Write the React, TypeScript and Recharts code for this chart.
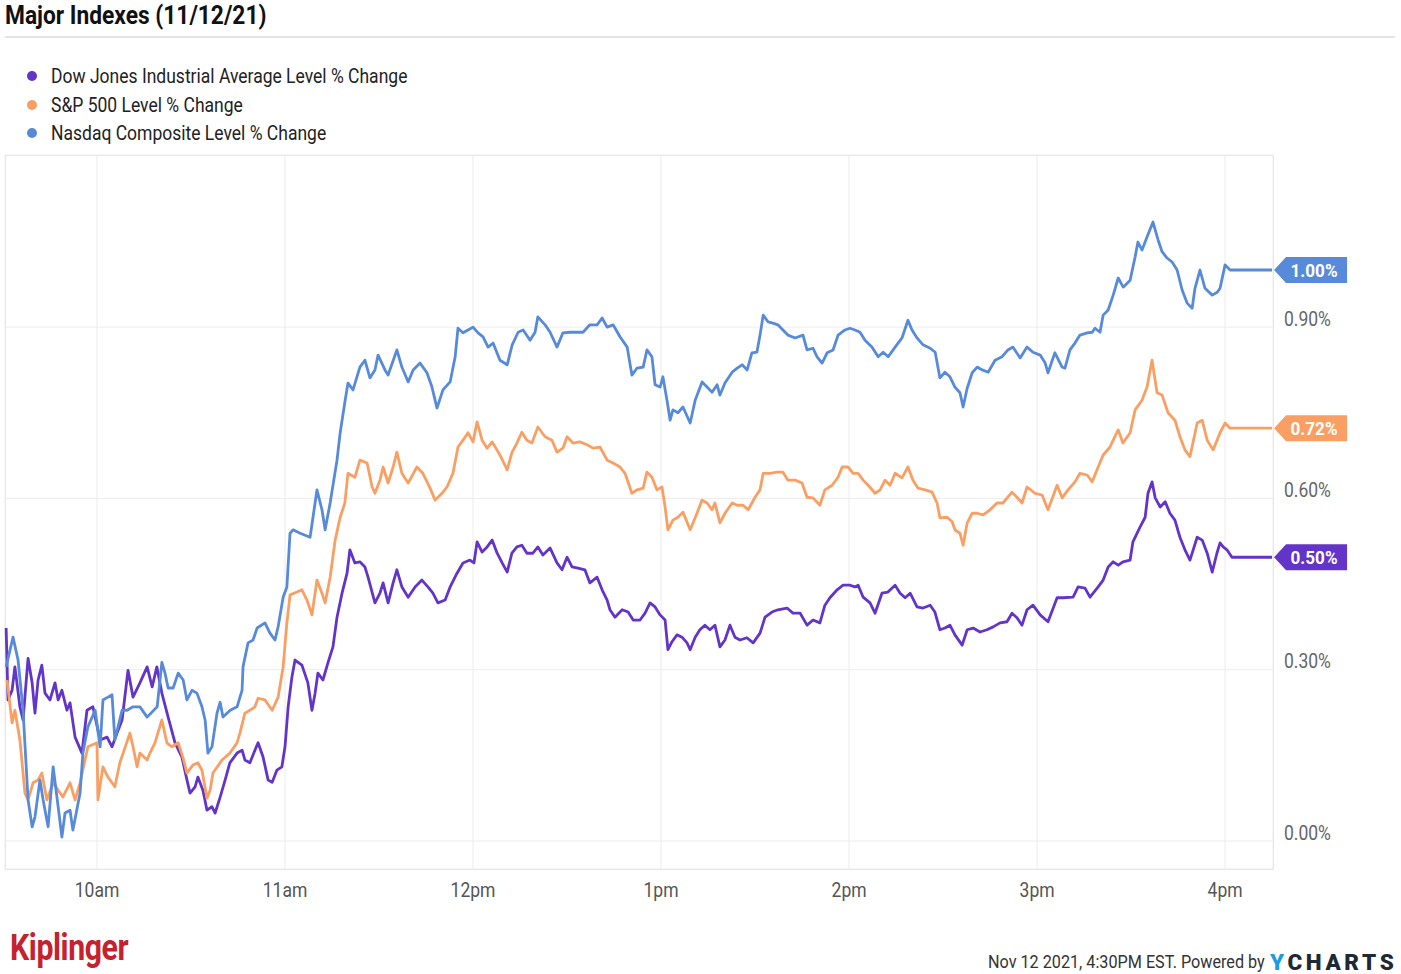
import React from 'react';
import { LineChart, Line, XAxis, YAxis, CartesianGrid } from 'recharts';

// minutes after the 9:30 open -> % change
const hourTicks = [30, 90, 150, 210, 270, 330, 390];
const hourLabels = ['10am', '11am', '12pm', '1pm', '2pm', '3pm', '4pm'];
const pctTicks = [0, 0.3, 0.6, 0.9];

const seriesNames = [
  'Dow Jones Industrial Average Level % Change',
  'S&P 500 Level % Change',
  'Nasdaq Composite Level % Change',
];
const seriesColors = ['#6334c8', '#fa9f63', '#578ad9'];

const dowSeries: [number, number][] = [
  [1.0, 0.373], [1.6, 0.247], [2.9, 0.264], [3.8, 0.305], [5.4, 0.235], [6.4, 0.212], [8.0, 0.32], [9.3, 0.277],
  [10.2, 0.224], [11.2, 0.282], [12.4, 0.308], [13.4, 0.259], [15.0, 0.247], [16.6, 0.277], [17.6, 0.247], [18.8, 0.264],
  [20.4, 0.229], [21.4, 0.242], [23.0, 0.182], [25.2, 0.154], [26.8, 0.229], [28.7, 0.235], [31.0, 0.177], [33.2, 0.182],
  [34.8, 0.165], [36.4, 0.189], [38.0, 0.212], [39.9, 0.299], [41.5, 0.252], [43.7, 0.277], [46.0, 0.305], [47.6, 0.27],
  [49.1, 0.305], [50.7, 0.259], [52.7, 0.217], [54.9, 0.172], [57.1, 0.147], [58.7, 0.107], [59.7, 0.084], [61.3, 0.095],
  [62.2, 0.112], [63.8, 0.089], [65.1, 0.054], [66.7, 0.06], [67.7, 0.049], [69.3, 0.077], [70.9, 0.107], [72.4, 0.137],
  [74.7, 0.154], [76.3, 0.159], [77.2, 0.142], [78.8, 0.137], [80.4, 0.159], [81.4, 0.172], [83.0, 0.147], [84.6, 0.107],
  [85.9, 0.103], [87.4, 0.124], [89.0, 0.13], [90.0, 0.165], [91.0, 0.235], [92.2, 0.287], [93.2, 0.317], [95.4, 0.308],
  [97.3, 0.277], [98.6, 0.229], [99.6, 0.259], [100.5, 0.294], [102.1, 0.282], [103.7, 0.312], [105.3, 0.34], [106.6, 0.392],
  [108.2, 0.434], [109.8, 0.469], [110.7, 0.51], [112.3, 0.487], [113.9, 0.489], [115.5, 0.48], [116.5, 0.462], [118.7, 0.417],
  [120.3, 0.434], [121.3, 0.452], [122.9, 0.417], [124.5, 0.452], [125.7, 0.475], [127.3, 0.445], [129.3, 0.427], [131.5, 0.445],
  [133.7, 0.457], [135.6, 0.445], [137.2, 0.434], [138.8, 0.417], [141.1, 0.422], [142.7, 0.445], [144.9, 0.469], [146.8, 0.487],
  [149.0, 0.492], [150.3, 0.487], [151.3, 0.524], [152.9, 0.506], [154.5, 0.515], [156.1, 0.527], [157.7, 0.504], [159.3, 0.487],
  [160.9, 0.471], [162.4, 0.504], [164.0, 0.515], [165.6, 0.518], [167.2, 0.504], [169.1, 0.504], [170.7, 0.515], [172.3, 0.501],
  [174.6, 0.513], [176.8, 0.487], [178.4, 0.475], [180.0, 0.497], [181.6, 0.48], [183.5, 0.478], [185.7, 0.475], [187.3, 0.452],
  [189.6, 0.462], [191.2, 0.44], [192.8, 0.422], [193.7, 0.405], [195.3, 0.392], [197.6, 0.405], [199.5, 0.401], [201.1, 0.387],
  [203.3, 0.387], [204.9, 0.399], [206.5, 0.417], [208.1, 0.41], [209.7, 0.396], [211.3, 0.387], [212.2, 0.335], [213.5, 0.349],
  [215.1, 0.361], [216.7, 0.357], [218.3, 0.347], [219.3, 0.335], [220.9, 0.357], [222.4, 0.37], [224.0, 0.378], [225.6, 0.37],
  [227.2, 0.378], [228.8, 0.34], [230.4, 0.352], [232.0, 0.378], [233.6, 0.357], [235.2, 0.352], [237.4, 0.356], [239.4, 0.347],
  [241.6, 0.364], [243.2, 0.392], [245.4, 0.401], [247.3, 0.405], [250.2, 0.408], [252.1, 0.399], [254.4, 0.399], [256.6, 0.378],
  [258.5, 0.387], [260.7, 0.382], [262.3, 0.413], [263.9, 0.426], [266.2, 0.44], [268.1, 0.448], [270.3, 0.448], [271.9, 0.445],
  [272.9, 0.448], [274.5, 0.427], [276.7, 0.417], [278.3, 0.399], [280.5, 0.434], [282.4, 0.436], [284.7, 0.448], [286.3, 0.434],
  [287.9, 0.426], [289.5, 0.434], [291.7, 0.41], [293.6, 0.408], [295.9, 0.413], [297.4, 0.401], [299.0, 0.37], [300.6, 0.373],
  [302.2, 0.378], [303.8, 0.361], [306.1, 0.343], [307.7, 0.37], [309.6, 0.373], [311.8, 0.366], [314.0, 0.37], [316.0, 0.375],
  [318.2, 0.382], [320.4, 0.384], [322.0, 0.399], [323.6, 0.391], [325.2, 0.378], [326.8, 0.405], [328.7, 0.413], [331.0, 0.396],
  [333.5, 0.384], [336.4, 0.426], [338.3, 0.426], [341.5, 0.427], [343.1, 0.445], [345.3, 0.443], [346.9, 0.427], [349.5, 0.445],
  [351.1, 0.457], [352.7, 0.48], [354.3, 0.489], [355.9, 0.483], [357.4, 0.489], [359.7, 0.492], [360.6, 0.524], [362.9, 0.55],
  [364.5, 0.567], [365.4, 0.609], [366.7, 0.629], [367.7, 0.601], [369.3, 0.585], [370.9, 0.594], [372.4, 0.574], [374.0, 0.562],
  [375.6, 0.532], [377.2, 0.51], [378.8, 0.492], [381.1, 0.532], [382.7, 0.527], [384.3, 0.504], [385.9, 0.471], [387.4, 0.504],
  [388.4, 0.522], [389.4, 0.515], [390.6, 0.51], [392.2, 0.497], [405.0, 0.497],
];

const spSeries: [number, number][] = [
  [1.3, 0.282], [2.9, 0.207], [3.8, 0.229], [5.4, 0.177], [7.0, 0.084], [8.0, 0.072], [9.6, 0.102], [11.2, 0.107],
  [12.4, 0.119], [14.0, 0.072], [16.0, 0.102], [19.1, 0.077], [21.4, 0.102], [23.0, 0.072], [24.6, 0.102], [27.1, 0.165],
  [30.0, 0.172], [30.3, 0.072], [31.9, 0.13], [33.5, 0.112], [35.7, 0.095], [37.3, 0.137], [40.5, 0.189], [41.5, 0.165],
  [42.8, 0.13], [43.7, 0.154], [46.0, 0.142], [46.9, 0.154], [48.5, 0.172], [50.7, 0.212], [52.3, 0.172], [53.9, 0.165],
  [55.9, 0.172], [57.4, 0.147], [58.7, 0.119], [60.6, 0.133], [62.2, 0.137], [63.5, 0.124], [65.1, 0.075], [66.1, 0.089],
  [67.0, 0.119], [69.9, 0.142], [72.4, 0.154], [74.7, 0.172], [75.6, 0.189], [77.2, 0.224], [78.8, 0.229], [80.4, 0.235],
  [81.4, 0.25], [83.6, 0.247], [85.9, 0.229], [87.8, 0.252], [89.4, 0.305], [90.6, 0.382], [91.6, 0.431], [93.8, 0.436],
  [95.4, 0.44], [97.0, 0.422], [98.6, 0.396], [100.2, 0.457], [101.8, 0.434], [102.8, 0.417], [104.4, 0.462], [106.0, 0.527],
  [107.6, 0.567], [109.1, 0.592], [110.1, 0.644], [112.3, 0.637], [113.9, 0.667], [116.2, 0.662], [117.8, 0.62], [118.7, 0.609],
  [120.3, 0.632], [121.3, 0.655], [122.9, 0.627], [124.5, 0.655], [125.7, 0.681], [127.3, 0.644], [129.3, 0.627], [132.1, 0.655],
  [134.0, 0.644], [136.3, 0.618], [137.9, 0.597], [140.1, 0.609], [141.7, 0.62], [143.6, 0.644], [145.2, 0.69], [146.8, 0.702],
  [148.4, 0.715], [150.0, 0.699], [151.3, 0.734], [152.9, 0.702], [154.5, 0.688], [156.1, 0.699], [158.6, 0.676], [160.9, 0.65],
  [162.4, 0.68], [164.0, 0.697], [165.6, 0.716], [167.2, 0.702], [168.8, 0.697], [170.7, 0.725], [173.0, 0.708], [175.2, 0.702],
  [176.8, 0.681], [178.7, 0.688], [180.0, 0.708], [181.9, 0.697], [184.1, 0.699], [186.4, 0.694], [188.3, 0.688], [190.5, 0.69],
  [192.8, 0.667], [194.7, 0.662], [196.9, 0.655], [198.5, 0.644], [200.7, 0.609], [202.3, 0.615], [204.3, 0.618], [205.5, 0.646],
  [207.1, 0.637], [208.7, 0.615], [210.3, 0.62], [211.3, 0.585], [212.2, 0.545], [213.8, 0.562], [215.4, 0.567], [217.0, 0.576],
  [219.3, 0.545], [220.9, 0.566], [223.1, 0.597], [224.7, 0.592], [226.3, 0.58], [227.2, 0.592], [228.8, 0.557], [230.4, 0.574],
  [232.7, 0.592], [234.3, 0.588], [236.2, 0.588], [237.8, 0.58], [240.0, 0.602], [241.6, 0.615], [242.6, 0.644], [244.8, 0.644],
  [247.0, 0.646], [248.9, 0.646], [250.5, 0.632], [252.8, 0.632], [255.0, 0.627], [256.6, 0.602], [258.5, 0.601], [260.7, 0.588],
  [262.3, 0.615], [264.6, 0.623], [266.5, 0.637], [267.8, 0.655], [269.7, 0.655], [271.3, 0.644], [272.9, 0.644], [274.5, 0.632],
  [276.1, 0.623], [278.3, 0.609], [279.9, 0.615], [281.5, 0.632], [283.1, 0.623], [284.7, 0.644], [286.9, 0.636], [288.8, 0.655],
  [290.4, 0.632], [292.0, 0.618], [294.3, 0.615], [296.5, 0.611], [298.1, 0.592], [299.0, 0.566], [301.3, 0.567], [302.9, 0.559],
  [303.8, 0.545], [305.4, 0.539], [306.4, 0.518], [307.7, 0.557], [309.3, 0.574], [310.9, 0.574], [312.8, 0.571], [315.0, 0.58],
  [317.2, 0.592], [319.1, 0.592], [322.0, 0.611], [323.6, 0.602], [325.2, 0.592], [326.8, 0.62], [329.4, 0.609], [331.6, 0.606],
  [333.5, 0.58], [336.4, 0.623], [338.0, 0.601], [339.9, 0.615], [342.1, 0.629], [343.7, 0.644], [346.0, 0.641], [347.6, 0.629],
  [349.5, 0.655], [351.1, 0.676], [353.3, 0.69], [354.3, 0.702], [355.9, 0.72], [357.4, 0.697], [359.7, 0.715], [361.3, 0.755],
  [363.5, 0.772], [365.1, 0.795], [366.7, 0.842], [368.3, 0.785], [369.9, 0.781], [371.8, 0.75], [374.0, 0.737], [375.6, 0.708],
  [377.2, 0.685], [378.8, 0.673], [381.1, 0.732], [382.7, 0.737], [384.3, 0.702], [386.2, 0.685], [388.4, 0.715], [390.0, 0.732],
  [391.6, 0.723], [405.0, 0.723],
];

const nasdaqSeries: [number, number][] = [
  [1.0, 0.305], [3.2, 0.357], [4.8, 0.317], [6.4, 0.229], [8.0, 0.072], [9.3, 0.025], [10.2, 0.042], [11.8, 0.107],
  [12.8, 0.072], [14.4, 0.025], [16.0, 0.13], [17.6, 0.06], [18.8, 0.007], [19.8, 0.049], [21.4, 0.054], [22.3, 0.019],
  [24.6, 0.084], [25.5, 0.154], [27.1, 0.2], [29.4, 0.229], [31.0, 0.165], [31.9, 0.247], [33.5, 0.252], [34.8, 0.256],
  [35.7, 0.177], [38.0, 0.229], [39.6, 0.229], [41.5, 0.235], [43.7, 0.235], [46.0, 0.217], [49.2, 0.235], [50.7, 0.313],
  [51.7, 0.294], [52.7, 0.268], [54.3, 0.268], [55.9, 0.294], [57.5, 0.282], [58.7, 0.247], [60.3, 0.264], [61.9, 0.259],
  [63.5, 0.235], [64.5, 0.212], [65.4, 0.154], [66.7, 0.165], [68.3, 0.224], [69.3, 0.243], [70.2, 0.217], [72.5, 0.229],
  [74.7, 0.235], [76.3, 0.264], [76.6, 0.305], [78.2, 0.347], [79.8, 0.352], [81.1, 0.373], [83.6, 0.382], [85.2, 0.364],
  [86.8, 0.352], [87.8, 0.375], [89.4, 0.427], [90.6, 0.445], [91.6, 0.539], [92.6, 0.545], [94.8, 0.539], [98.0, 0.532],
  [99.6, 0.592], [100.2, 0.615], [101.8, 0.58], [102.8, 0.545], [104.4, 0.592], [106.6, 0.667], [107.6, 0.715], [109.2, 0.772],
  [110.1, 0.802], [111.7, 0.79], [113.9, 0.83], [115.5, 0.842], [117.1, 0.811], [118.7, 0.825], [119.7, 0.851], [121.9, 0.825],
  [122.9, 0.816], [125.7, 0.86], [127.3, 0.83], [129.3, 0.804], [130.9, 0.825], [133.1, 0.837], [135.3, 0.82], [136.9, 0.795],
  [138.5, 0.758], [140.4, 0.79], [142.7, 0.804], [144.3, 0.848], [145.2, 0.898], [146.8, 0.89], [148.4, 0.895], [150.0, 0.9],
  [151.6, 0.89], [153.2, 0.883], [154.8, 0.865], [156.4, 0.872], [158.6, 0.842], [160.9, 0.834], [162.5, 0.869], [164.4, 0.891],
  [166.0, 0.895], [168.2, 0.877], [169.8, 0.891], [170.7, 0.918], [173.0, 0.904], [174.6, 0.891], [176.8, 0.865], [178.7, 0.89],
  [181.0, 0.891], [183.2, 0.891], [185.1, 0.891], [187.3, 0.904], [189.6, 0.904], [191.2, 0.916], [192.8, 0.9], [194.7, 0.904],
  [196.9, 0.883], [199.2, 0.865], [200.7, 0.816], [202.3, 0.828], [204.3, 0.83], [205.5, 0.86], [207.1, 0.848], [208.1, 0.799],
  [209.7, 0.795], [210.6, 0.813], [211.9, 0.772], [212.9, 0.737], [213.8, 0.755], [215.4, 0.75], [217.0, 0.76], [219.3, 0.732],
  [220.9, 0.772], [223.1, 0.804], [224.7, 0.795], [226.3, 0.786], [227.9, 0.799], [228.8, 0.781], [230.4, 0.802], [232.7, 0.821],
  [234.3, 0.828], [235.9, 0.834], [237.5, 0.825], [239.0, 0.855], [240.6, 0.856], [241.6, 0.886], [242.6, 0.921], [244.2, 0.909],
  [245.7, 0.907], [247.3, 0.904], [248.9, 0.895], [250.5, 0.886], [252.8, 0.881], [255.3, 0.886], [256.6, 0.86], [258.5, 0.863],
  [259.8, 0.848], [261.4, 0.837], [263.0, 0.855], [264.9, 0.86], [266.5, 0.886], [268.7, 0.895], [270.3, 0.898], [271.9, 0.895],
  [273.5, 0.891], [275.1, 0.877], [277.3, 0.865], [279.3, 0.848], [280.9, 0.856], [282.5, 0.848], [284.7, 0.865], [286.9, 0.881],
  [288.8, 0.912], [290.1, 0.895], [291.7, 0.881], [293.6, 0.869], [295.9, 0.863], [297.5, 0.856], [299.0, 0.811], [300.6, 0.821],
  [302.2, 0.813], [303.8, 0.795], [305.4, 0.785], [306.4, 0.76], [307.7, 0.793], [309.3, 0.82], [310.9, 0.83], [312.5, 0.825],
  [314.4, 0.821], [316.6, 0.842], [318.8, 0.848], [320.7, 0.86], [322.3, 0.865], [324.6, 0.846], [326.8, 0.865], [328.7, 0.856],
  [331.0, 0.851], [332.6, 0.837], [333.5, 0.82], [335.7, 0.855], [338.0, 0.83], [338.9, 0.828], [340.5, 0.86], [342.1, 0.872],
  [343.7, 0.886], [346.0, 0.89], [347.6, 0.891], [348.5, 0.898], [350.1, 0.891], [351.1, 0.921], [352.7, 0.93], [354.3, 0.956],
  [355.9, 0.986], [357.5, 0.97], [359.7, 0.982], [361.3, 1.023], [362.2, 1.049], [363.5, 1.035], [365.1, 1.058], [367.0, 1.084],
  [368.6, 1.053], [369.9, 1.032], [371.5, 1.021], [373.1, 1.014], [374.7, 1.0], [376.3, 0.965], [377.9, 0.942], [379.5, 0.933],
  [380.4, 0.968], [382.0, 1.0], [383.6, 0.968], [385.9, 0.956], [387.5, 0.961], [388.4, 0.968], [390.0, 1.009], [391.6, 1.0],
  [405.0, 1.0],
];

const allSeries = [dowSeries, spSeries, nasdaqSeries];
const font = 'Roboto, "Noto Sans", sans-serif';

const Txt = ({ left, top, size, weight = 400, color = '#222', scale = 0.875, spacing = 0, children }: any) => (
  <div
    style={{
      position: 'absolute', left, top, fontSize: size, fontWeight: weight, color, fontFamily: font,
      lineHeight: 1, whiteSpace: 'nowrap', transform: `scaleX(${scale})`, transformOrigin: 'left top', letterSpacing: spacing,
    }}
  >
    {children}
  </div>
);

const XTick = ({ x, y, payload }: any) => {
  const i = hourTicks.indexOf(payload.value);
  return (
    <text transform={`translate(${x},${y + 28}) scale(0.875,1)`} textAnchor="middle" fontSize={20} fill="#555" fontFamily={font}>
      {hourLabels[i]}
    </text>
  );
};

const YTick = ({ x, y, payload }: any) => (
  <text transform={`translate(${x},${y - 1.5}) scale(0.875,1)`} textAnchor="start" fontSize={20} fill="#666" fontFamily={font}>
    {payload.value.toFixed(2) + '%'}
  </text>
);

const makeTag = (color: string, lastIndex: number) => (props: any) => {
  const { x, y, value, index } = props;
  if (index !== lastIndex) return <g />;
  const pts = `${x + 2},${y} ${x + 14},${y - 13} ${x + 75},${y - 13} ${x + 75},${y + 13} ${x + 14},${y + 13}`;
  return (
    <g>
      <polygon points={pts} fill={color} />
      <text transform={`translate(${x + 42},${y + 6.5}) scale(0.9,1)`} textAnchor="middle" fontSize={19} fontWeight={700} fill="#fff" fontFamily={font}>
        {Number(value).toFixed(2) + '%'}
      </text>
    </g>
  );
};

export default function App() {
  return (
    <div style={{ position: 'absolute', left: 0, top: 0, width: 1401, height: 974, background: '#fff', overflow: 'hidden' }}>
      <Txt left={5} top={3} size={25} weight={700} color="#111" scale={0.91}>Major Indexes (11/12/21)</Txt>
      <div style={{ position: 'absolute', left: 5, top: 36, width: 1390, height: 2, background: '#e4e4e4' }} />

      {seriesNames.map((name, i) => (
        <React.Fragment key={name}>
          <div style={{ position: 'absolute', left: 27, top: 71 + i * 28.5, width: 10, height: 10, borderRadius: 5, background: seriesColors[i] }} />
          <Txt left={51} top={66 + i * 28.5} size={20} color="#222">{name}</Txt>
        </React.Fragment>
      ))}

      <div style={{ position: 'absolute', left: 5, top: 155, width: 1269, height: 715, border: '1px solid #e2e2e2', boxSizing: 'border-box' }} />

      <div style={{ position: 'absolute', left: 0, top: 0 }}>
        <LineChart width={1401} height={974} margin={{ top: 155, right: 0, left: 5, bottom: 65 }}>
          <CartesianGrid stroke="#ececec" />
          <XAxis
            type="number"
            dataKey="t"
            domain={[0.64, 405.3]}
            ticks={hourTicks}
            interval={0}
            height={40}
            axisLine={false}
            tickLine={false}
            tickSize={0}
            tickMargin={0}
            tick={<XTick />}
          />
          <YAxis
            orientation="right"
            type="number"
            domain={[-0.049, 1.2014]}
            ticks={pctTicks}
            interval={0}
            width={128}
            axisLine={false}
            tickLine={false}
            tickSize={0}
            tickMargin={11}
            tick={<YTick />}
          />
          {allSeries.map((s, i) => (
            <Line
              key={seriesNames[i]}
              data={s.map(([t, v]) => ({ t, v }))}
              dataKey="v"
              type="linear"
              stroke={seriesColors[i]}
              strokeWidth={2.8}
              strokeLinejoin="round"
              dot={false}
              activeDot={false}
              isAnimationActive={false}
              label={makeTag(seriesColors[i], s.length - 1)}
            />
          ))}
        </LineChart>
      </div>

      <Txt left={10} top={930} size={36} weight={700} color="#c5212e" scale={0.84} spacing={-0.5}>Kiplinger</Txt>
      <Txt left={988} top={953} size={18.5} color="#333">Nov 12 2021, 4:30PM EST. Powered by</Txt>
      <div style={{ position: 'absolute', left: 1270, top: 951, fontFamily: font, fontWeight: 900, fontSize: 22.5, lineHeight: 1, letterSpacing: 3.6, whiteSpace: 'nowrap' }}>
        <span style={{ color: '#1f9ae0' }}>Y</span>
        <span style={{ color: '#1d2935' }}>CHARTS</span>
      </div>
    </div>
  );
}
